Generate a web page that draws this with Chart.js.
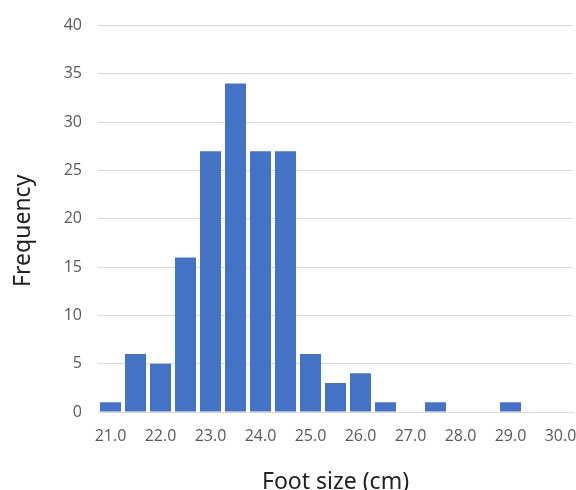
<!DOCTYPE html>
<html>
<head>
<meta charset="utf-8">
<script src="https://cdn.jsdelivr.net/npm/chart.js@4/dist/chart.umd.min.js"></script>
<style>
  html, body { margin: 0; padding: 0; background: #fff; }
  #wrap { width: 576px; height: 490px; }
</style>
</head>
<body>
<div id="wrap"><canvas id="myChart"></canvas></div>
<script>
// foot size bins (cm) and counts
const sizes = ['21.0', '21.5', '22.0', '22.5', '23.0', '23.5', '24.0', '24.5', '25.0', '25.5',
               '26.0', '26.5', '27.0', '27.5', '28.0', '28.5', '29.0', '29.5', '30.0'];
const counts = [1, 6, 5, 16, 27, 34, 27, 27, 6, 3, 4, 1, 0, 1, 0, 0, 1, 0, 0];
const yTicks = [0, 5, 10, 15, 20, 25, 30, 35, 40];

const tickFont = { family: 'Open Sans', size: 16, weight: '500' };
const titleFont = { family: 'Noto Sans', size: 23 };

const data = {
    labels: sizes,
    datasets: [{
        label: 'Frequency',
        data: counts,
        backgroundColor: '#4472C4',
        borderWidth: 0,
        categoryPercentage: 1,
        barPercentage: 0.84,
    }]
};

const config = {
    type: 'bar',
    data: data,
    options: {
        responsive: true,
        maintainAspectRatio: false,
        animation: false,
        layout: { padding: { top: 16, right: 3, left: 0, bottom: 0 } },
        plugins: {
            legend: { display: false },
            tooltip: { enabled: false }
        },
        scales: {
            x: {
                grid: { display: false },
                border: { color: '#d9d9d9', width: 1 },
                ticks: {
                    color: '#595959',
                    font: tickFont,
                    autoSkip: false,
                    maxRotation: 0,
                    padding: 7,
                    callback: (v, i) => i % 2 == 0 ? sizes[i] : ''
                },
                title: {
                    display: true,
                    text: 'Foot size (cm)',
                    color: '#222',
                    font: titleFont,
                    padding: { top: 16, bottom: -6 }
                },
                afterFit: s => {
                    s.height = 78;
                    s.paddingRight = 0;
                    s.paddingLeft = 0;
                }
            },
            y: {
                min: 0,
                max: 40,
                afterBuildTicks: s => { s.ticks = yTicks.map(v => ({ value: v })); },
                grid: { color: '#d9d9d9', drawTicks: false },
                border: { display: false },
                ticks: {
                    color: '#595959',
                    font: tickFont,
                    padding: 16
                },
                title: {
                    display: true,
                    text: 'Frequency    ', // trailing spaces nudge it down a bit
                    color: '#222',
                    font: titleFont,
                    padding: { bottom: 0, top: 10 }
                },
                afterFit: s => { s.width = 98; }
            }
        }
    }
};

new Chart(document.getElementById('myChart'), config);
</script>
</body>
</html>
